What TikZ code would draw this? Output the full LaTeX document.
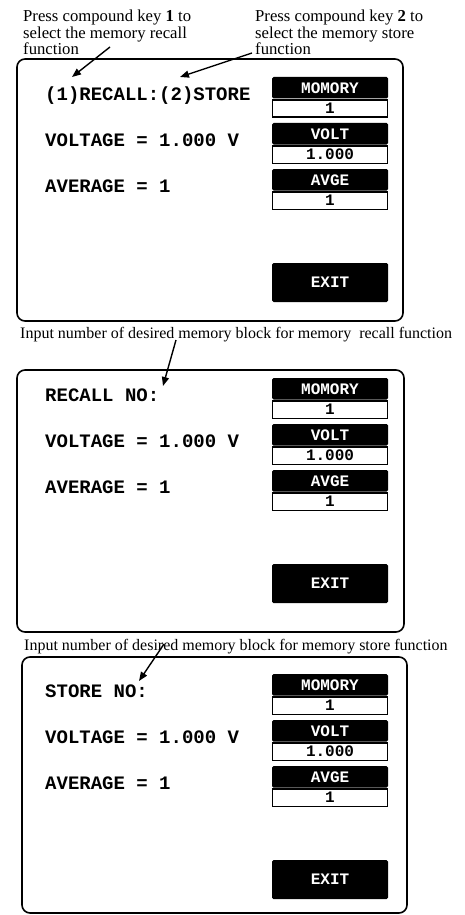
\documentclass[tikz,border=0pt]{standalone}
\usepackage{fontspec}
\setmainfont{Liberation Serif}
\setmonofont{Liberation Mono}
\usetikzlibrary{arrows.meta,positioning}

\tikzset{
  note/.style={font=\fontsize{16}{16.5}\selectfont, inner sep=0pt, align=left},
  keynote/.style={note, font=\fontsize{16.7}{16.5}\selectfont},
  screen/.style={line width=1.6pt, rounded corners=8pt},
  lcd/.style={font=\fontsize{19}{19}\selectfont\ttfamily\bfseries, anchor=base west, inner sep=0pt},
  keyhead/.style={fill=black, text=white, rounded corners=1.5pt, minimum width=116pt, minimum height=21.5pt, inner sep=0pt, font=\fontsize{16}{16}\selectfont\ttfamily\bfseries},
  keyval/.style={draw, fill=white, line width=1.4pt, minimum width=114.6pt, minimum height=17.1pt, inner sep=0pt, font=\fontsize{16}{16}\selectfont\ttfamily\bfseries},
  pointer/.style={line width=1.4pt, -{Triangle[length=9pt,width=7pt]}}
}

\begin{document}
\begin{tikzpicture}[x=1pt,y=-1pt]
\useasboundingbox (0,0) rectangle (464,915);

% the three screens
\draw[screen] (17,59) rectangle (403,321);
\draw[screen] (17,370) rectangle (404,632);
\draw[screen] (22,657) rectangle (407,913);

% screen contents, shifted down by \dy
\foreach \p/\dy/\first in {1/0/{(1)RECALL:(2)STORE}, 2/301/{RECALL NO:}, 3/597/{STORE NO:}}{
  \node[lcd] (line\p) at (45,100.5+\dy) {\first};
  \node[lcd] (volt\p) at (45,146.5+\dy) {VOLTAGE = 1.000 V};
  \node[lcd] (avge\p) at (45,192.5+\dy) {AVERAGE = 1};
  \node[keyhead] (memh\p) at (330,87.75+\dy) {MOMORY};
  \node[keyval, below=0.7pt of memh\p] (memv\p) {1};
  \node[keyhead] (volth\p) at (330,133.75+\dy) {VOLT};
  \node[keyval, below=0.7pt of volth\p] (voltv\p) {1.000};
  \node[keyhead] (avgeh\p) at (330,179.75+\dy) {AVGE};
  \node[keyval, below=0.7pt of avgeh\p] (avgev\p) {1};
  \node[keyhead, minimum height=39pt] (exit\p) at (330,282.5+\dy) {EXIT};
}

% notes and pointers
\node[keynote, anchor=north west] (keyone) at (23,10) {Press compound key \textbf{1} to\\select the memory recall\\function};
\node[keynote, anchor=north west] (keytwo) at (255,10) {Press compound key \textbf{2} to\\select the memory store\\function};
\node[note, anchor=base west] (recallnote) at (20,338) {Input number of desired memory block for memory~ recall function};
\node[note, anchor=base west] (storenote) at (24,650) {Input number of desired memory block for memory store function};

\coordinate (fromone) at (110,47);
\coordinate (tipone) at (72,77);
\coordinate (fromtwo) at (252,53);
\coordinate (tiptwo) at (180,77);
\coordinate (fromrecall) at (176,340);
\coordinate (tiprecall) at (163,386);
\coordinate (fromstore) at (164,644);
\coordinate (tipstore) at (139,681);

\draw[pointer] (fromone) -- (tipone);
\draw[pointer] (fromtwo) -- (tiptwo);
\draw[pointer] (fromrecall) -- (tiprecall);
\draw[pointer] (fromstore) -- (tipstore);
\end{tikzpicture}
\end{document}
